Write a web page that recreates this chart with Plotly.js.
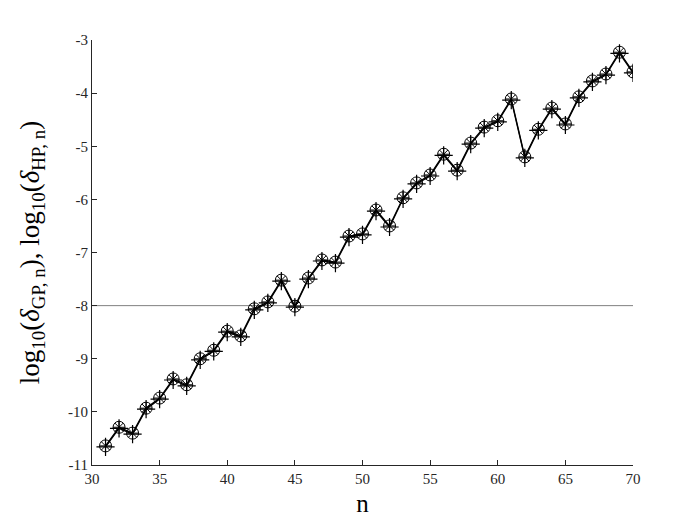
<!DOCTYPE html>
<html>
<head>
<meta charset="utf-8">
<script src="https://cdn.plot.ly/plotly-3.0.1.min.js"></script>
<style>
  body { margin: 0; background: #fff; }
  #chart { width: 700px; height: 525px; }
</style>
</head>
<body>
<div id="chart"></div>
<script>
// === Data ===
const nValues = [31, 32, 33, 34, 35, 36, 37, 38, 39, 40,
                 41, 42, 43, 44, 45, 46, 47, 48, 49, 50,
                 51, 52, 53, 54, 55, 56, 57, 58, 59, 60,
                 61, 62, 63, 64, 65, 66, 67, 68, 69, 70];

// log10(delta_GP,n)
const gpValues = [-10.64, -10.29, -10.40, -9.93, -9.74, -9.38, -9.49, -9.00, -8.84, -8.48,
                  -8.57, -8.06, -7.93, -7.52, -8.01, -7.48, -7.14, -7.18, -6.69, -6.65,
                  -6.20, -6.50, -5.97, -5.69, -5.54, -5.15, -5.45, -4.94, -4.64, -4.52,
                  -4.11, -5.20, -4.68, -4.28, -4.58, -4.07, -3.77, -3.64, -3.23, -3.60];

// log10(delta_HP,n)
const hpValues = [-10.66, -10.31, -10.42, -9.95, -9.76, -9.40, -9.51, -9.02, -8.86, -8.50,
                  -8.59, -8.08, -7.95, -7.54, -8.03, -7.50, -7.16, -7.20, -6.71, -6.67,
                  -6.22, -6.52, -5.99, -5.71, -5.56, -5.17, -5.47, -4.96, -4.66, -4.54,
                  -4.13, -5.22, -4.70, -4.30, -4.60, -4.09, -3.79, -3.66, -3.25, -3.62];

const thresholdValue = -8;

const xTickVals = [30, 35, 40, 45, 50, 55, 60, 65, 70];
const yTickVals = [-11, -10, -9, -8, -7, -6, -5, -4, -3];
const yTickText = ['-11', '-10', '-9', '-8', '-7', '-6', '-5', '-4', '-3'];

// === Traces ===
const traceGP = {
  x: nValues,
  y: gpValues,
  mode: 'lines+markers',
  line: { color: '#000', width: 1.3 },
  marker: { symbol: 'circle-open', size: 12, color: '#000', line: { width: 1 } },
  hoverinfo: 'skip'
};

const traceGPstar = {
  x: nValues,
  y: gpValues,
  mode: 'markers',
  marker: { symbol: 'asterisk-open', size: 10, color: '#000', line: { width: 1, color: '#000' } },
  hoverinfo: 'skip'
};

const traceHP = {
  x: nValues,
  y: hpValues,
  mode: 'lines+markers',
  line: { color: '#000', width: 1.3 },
  marker: { symbol: 'cross-thin-open', size: 13, color: '#000', line: { width: 1.2, color: '#000' } },
  hoverinfo: 'skip'
};

const serif = '"Liberation Serif", "Times New Roman", serif';

const layout = {
  width: 700,
  height: 525,
  paper_bgcolor: '#fff',
  plot_bgcolor: '#fff',
  showlegend: false,
  margin: { l: 92, r: 67, t: 40, b: 60 },
  font: { family: serif, color: '#262626', size: 15 },
  xaxis: {
    range: [30, 70],
    tickvals: xTickVals,
    tickfont: { family: serif, size: 15, color: '#262626' },
    ticks: 'inside',
    ticklen: 5,
    tickcolor: '#262626',
    showgrid: false,
    zeroline: false,
    showline: true,
    linecolor: '#262626',
    linewidth: 1,
    title: { text: 'n', font: { family: serif, size: 25, color: '#000' }, standoff: 8 }
  },
  yaxis: {
    range: [-11, -3],
    tickvals: yTickVals,
    ticktext: yTickText,
    tickfont: { family: serif, size: 15, color: '#262626' },
    ticks: 'inside',
    ticklen: 5,
    tickcolor: '#262626',
    showgrid: false,
    zeroline: false,
    showline: true,
    linecolor: '#262626',
    linewidth: 1,
    title: {
      text: 'log<sub>10</sub>(<i>δ</i><sub>GP, n</sub>), log<sub>10</sub>(<i>δ</i><sub>HP, n</sub>)',
      font: { family: serif, size: 27, color: '#000' },
      standoff: 20
    }
  },
  shapes: [{
    type: 'line',
    xref: 'x', yref: 'y',
    x0: xTickVals[0], x1: xTickVals[xTickVals.length - 1],
    y0: thresholdValue, y1: thresholdValue,
    line: { color: '#808080', width: 1 },
    layer: 'below'
  }]
};

Plotly.newPlot('chart', [traceGP, traceHP, traceGPstar], layout, { displayModeBar: false, staticPlot: true });
</script>
</body>
</html>
